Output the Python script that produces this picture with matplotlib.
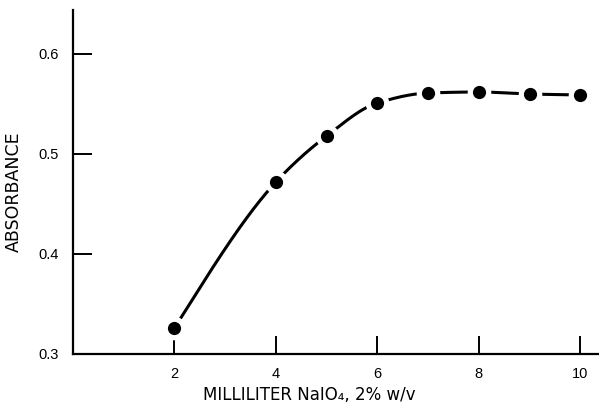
import numpy as np
import matplotlib
matplotlib.use("Agg")
import matplotlib.pyplot as plt

plt.rcParams['font.family'] = ['Liberation Sans', 'DejaVu Sans']

ml_naio4 = [2, 4, 5, 6, 7, 8, 9, 10]
absorbance = [0.326, 0.472, 0.518, 0.551, 0.561, 0.562, 0.560, 0.559]
x_ticks = [2, 4, 6, 8, 10]
y_ticks = [0.3, 0.4, 0.5, 0.6]
x_label = "MILLILITER NaIO\u2084, 2% w/v"
y_label = "ABSORBANCE"


def pchip(x, y, xs):
    x = np.asarray(x, float)
    y = np.asarray(y, float)
    h = np.diff(x)
    delta = np.diff(y) / h
    n = len(x)
    d = np.zeros(n)
    for k in range(1, n - 1):
        if delta[k - 1] * delta[k] > 0:
            w1 = 2 * h[k] + h[k - 1]
            w2 = h[k] + 2 * h[k - 1]
            d[k] = (w1 + w2) / (w1 / delta[k - 1] + w2 / delta[k])
    d[0] = delta[0] * 1.1
    d[-1] = delta[-1]
    out = np.empty_like(xs)
    for i, xv in enumerate(xs):
        k = min(np.searchsorted(x, xv) - 1, n - 2)
        k = max(k, 0)
        t = (xv - x[k]) / h[k]
        h00 = 2 * t**3 - 3 * t**2 + 1
        h10 = t**3 - 2 * t**2 + t
        h01 = -2 * t**3 + 3 * t**2
        h11 = t**3 - t**2
        out[i] = h00 * y[k] + h10 * h[k] * d[k] + h01 * y[k + 1] + h11 * h[k] * d[k + 1]
    return out


fig = plt.figure(figsize=(5.99, 4.04), dpi=100)
ax = fig.add_axes([73 / 599, 50 / 404, 525 / 599, 344 / 404])

xs = np.linspace(ml_naio4[0], ml_naio4[-1], 400)
ax.plot(xs, pchip(ml_naio4, absorbance, xs), color='black', lw=2.2,
        solid_capstyle='butt', zorder=2)
ax.plot(ml_naio4, absorbance, 'o', color='white', ms=17, mew=0, zorder=3)
ax.plot(ml_naio4, absorbance, 'o', color='black', ms=9.5, mew=0, zorder=4)

ax.set_xlim(0, 10.35)
ax.set_ylim(0.3, 0.644)
ax.set_xticks(x_ticks)
ax.set_yticks(y_ticks)
ax.set_xticklabels([str(v) for v in x_ticks])
ax.set_yticklabels([f"{v:.1f}" for v in y_ticks])

for s in ['top', 'right']:
    ax.spines[s].set_visible(False)
for s in ['left', 'bottom']:
    ax.spines[s].set_linewidth(1.6)

ax.tick_params(axis='y', direction='in', length=14, width=1.4, labelsize=10.5, pad=10)
ax.tick_params(axis='x', direction='in', length=13, width=1.4, labelsize=10.5, pad=9)

ax.set_xlabel(x_label, fontsize=12, family=['DejaVu Sans'])
ax.xaxis.set_label_coords(0.451, -0.092)
ax.set_ylabel(y_label, fontsize=12.5, family=['DejaVu Sans'])
ax.yaxis.set_label_coords(-0.095, 0.473)

fig.savefig("out.png", dpi=100)
